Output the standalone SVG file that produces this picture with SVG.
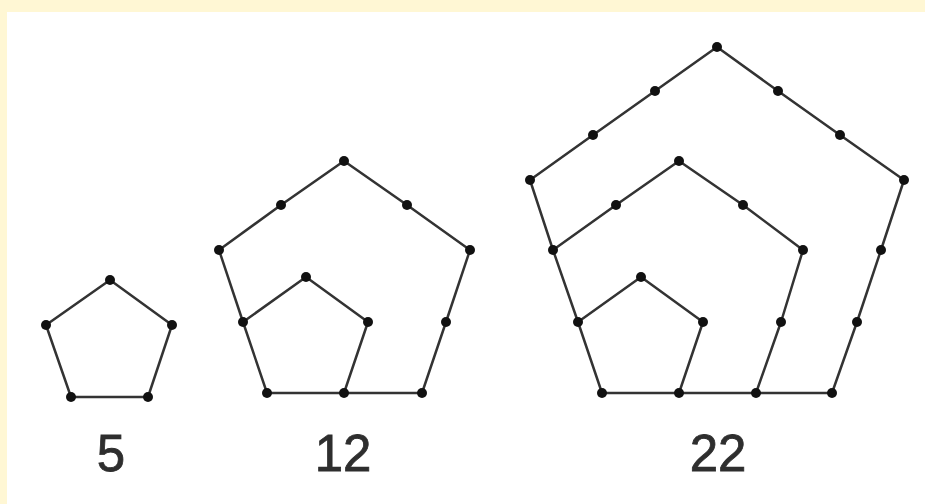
<svg xmlns="http://www.w3.org/2000/svg" width="925" height="504" viewBox="0 0 925 504">
  <style>
    .edge { fill: none; stroke: #333333; stroke-width: 2.5; stroke-linejoin: round; }
    .dot { fill: #111111; }
    .lbl { font-family: "Liberation Sans", Arial, sans-serif; font-size: 51px; fill: #2e2e2e; stroke: #2e2e2e; stroke-width: 0.8; text-anchor: middle; }
  </style>
  <rect x="0" y="0" width="925" height="504" fill="#FFF7D4"/>
  <rect x="7" y="12" width="918" height="492" fill="#FFFFFF"/>

  <g id="connectors">
    <polygon class="edge" points="110,280 172,325 148,397 71,397 46,325"/>
    <polygon class="edge" points="344,161 407,205 470,250 446,322 422,393 344,393 267,393 243,322 219,250 281,205"/>
    <polyline class="edge" points="243,322 306,277 368,322 344,393"/>
    <polygon class="edge" points="717,47 778,91 840,135 904,180 881,250 857,322 832,393 756,393 679,393 602,393 578,322 553,250 530,180 593,135 655,91"/>
    <polyline class="edge" points="553,250 616,205 679,161 743,205 803,250 781,322 756,393"/>
    <polyline class="edge" points="578,322 641,277 703,322 679,393"/>
  </g>

  <g id="figure-5">
    <circle class="dot" cx="110" cy="280" r="5"/>
    <circle class="dot" cx="172" cy="325" r="5"/>
    <circle class="dot" cx="148" cy="397" r="5"/>
    <circle class="dot" cx="71" cy="397" r="5"/>
    <circle class="dot" cx="46" cy="325" r="5"/>
    <text class="lbl" x="111" y="471">5</text>
  </g>

  <g id="figure-12">
    <circle class="dot" cx="344" cy="161" r="5"/>
    <circle class="dot" cx="407" cy="205" r="5"/>
    <circle class="dot" cx="470" cy="250" r="5"/>
    <circle class="dot" cx="446" cy="322" r="5"/>
    <circle class="dot" cx="422" cy="393" r="5"/>
    <circle class="dot" cx="344" cy="393" r="5"/>
    <circle class="dot" cx="267" cy="393" r="5"/>
    <circle class="dot" cx="243" cy="322" r="5"/>
    <circle class="dot" cx="219" cy="250" r="5"/>
    <circle class="dot" cx="281" cy="205" r="5"/>
    <circle class="dot" cx="306" cy="277" r="5"/>
    <circle class="dot" cx="368" cy="322" r="5"/>
    <text class="lbl" x="343" y="471">12</text>
  </g>

  <g id="figure-22">
    <circle class="dot" cx="717" cy="47" r="5"/>
    <circle class="dot" cx="778" cy="91" r="5"/>
    <circle class="dot" cx="840" cy="135" r="5"/>
    <circle class="dot" cx="904" cy="180" r="5"/>
    <circle class="dot" cx="881" cy="250" r="5"/>
    <circle class="dot" cx="857" cy="322" r="5"/>
    <circle class="dot" cx="832" cy="393" r="5"/>
    <circle class="dot" cx="756" cy="393" r="5"/>
    <circle class="dot" cx="679" cy="393" r="5"/>
    <circle class="dot" cx="602" cy="393" r="5"/>
    <circle class="dot" cx="578" cy="322" r="5"/>
    <circle class="dot" cx="553" cy="250" r="5"/>
    <circle class="dot" cx="530" cy="180" r="5"/>
    <circle class="dot" cx="593" cy="135" r="5"/>
    <circle class="dot" cx="655" cy="91" r="5"/>
    <circle class="dot" cx="616" cy="205" r="5"/>
    <circle class="dot" cx="679" cy="161" r="5"/>
    <circle class="dot" cx="743" cy="205" r="5"/>
    <circle class="dot" cx="803" cy="250" r="5"/>
    <circle class="dot" cx="781" cy="322" r="5"/>
    <circle class="dot" cx="641" cy="277" r="5"/>
    <circle class="dot" cx="703" cy="322" r="5"/>
    <text class="lbl" x="718" y="471">22</text>
  </g>
</svg>
